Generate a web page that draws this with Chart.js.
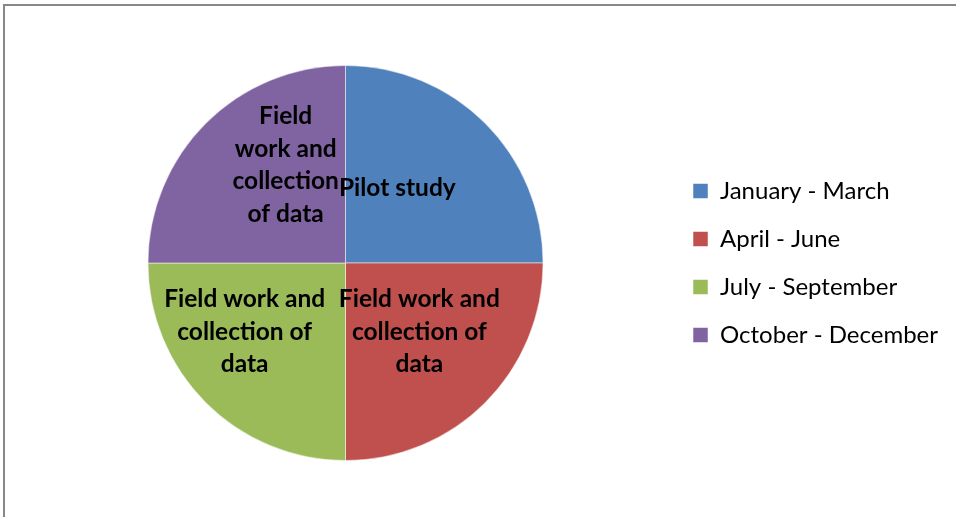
<!DOCTYPE html>
<html>
<head>
<meta charset="utf-8">
<script src="https://cdn.jsdelivr.net/npm/chart.js@4.4.1/dist/chart.umd.min.js"></script>
<style>
  html, body { margin: 0; padding: 0; background: #fff; }
  .frame {
    position: absolute; left: 3px; top: 4px; width: 953px; height: 513px;
    border-top: 2px solid #878787; border-left: 2px solid #878787;
  }
</style>
</head>
<body>
<div class="frame"><canvas id="myChart"></canvas></div>
<script>
// quarters and what happens in each
const quarters = ['January - March', 'April - June', 'July - September', 'October - December'];
const shares = [25, 25, 25, 25];
const sliceText = [
  ['Pilot study'],
  ['Field work and', 'collection of', 'data'],
  ['Field work and', 'collection of', 'data'],
  ['Field', 'work and', 'collection', 'of data']
];
const colors = ['#4F81BD', '#C0504D', '#9BBB59', '#8064A2'];

// nudges so the text sits where Excel put it
const labelNudge = [[-18, -5], [4, -1], [-31, -1], [10, -28]];

const sliceLabels = {
  id: 'sliceLabels',
  afterDatasetsDraw(chart) {
    const c = chart.ctx;
    const meta = chart.getDatasetMeta(0);
    c.save();
    c.font = 'bold 24.5px Lato';
    c.fillStyle = '#000';
    c.textAlign = 'center';
    c.textBaseline = 'middle';
    meta.data.forEach((arc, i) => {
      const p = arc.tooltipPosition();
      const lines = sliceText[i];
      const lh = 32.5;
      const x = p.x + labelNudge[i][0];
      const y0 = p.y + labelNudge[i][1] - (lines.length - 1) * lh / 2;
      lines.forEach((t, k) => c.fillText(t, x, y0 + k * lh));
    });
    c.restore();
  }
};

const ctx = document.getElementById('myChart');
new Chart(ctx, {
  type: 'pie',
  data: {
    labels: quarters,
    datasets: [{
      data: shares,
      backgroundColor: colors,
      borderColor: 'rgba(255,255,255,0.5)',
      borderWidth: 1
    }]
  },
  options: {
    responsive: true,
    maintainAspectRatio: false,
    animation: false,
    layout: { padding: { top: 59, bottom: 58, left: 17, right: 10 } },
    plugins: {
      legend: {
        position: 'right',
        labels: {
          boxWidth: 15,
          boxHeight: 15,
          padding: 24,
          color: '#000',
          font: { family: 'Lato', size: 24 }
        }
      },
      tooltip: { enabled: false },
      title: { display: false }
    }
  },
  plugins: [sliceLabels]
});
</script>
</body>
</html>
